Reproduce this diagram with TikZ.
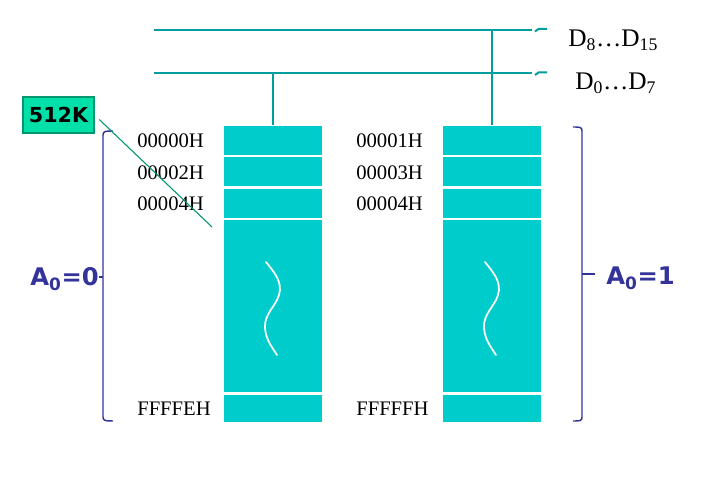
\documentclass[tikz,border=0pt]{standalone}
\usepackage{fontspec}
\setmainfont{Liberation Serif}
\newfontfamily\tagfont{DejaVu Sans}

\definecolor{cellcyan}{RGB}{0,204,204}
\definecolor{buscol}{RGB}{0,158,158}
\definecolor{tagfill}{RGB}{0,224,168}
\definecolor{tagline}{RGB}{0,150,110}
\definecolor{bracecol}{RGB}{51,51,153}

\tikzset{
  cell/.style={fill=cellcyan, inner sep=0pt, anchor=north west, minimum width=73.5pt},
  bus/.style={draw=buscol, line width=1.5pt},
  wave/.style={draw=white, line width=1.3pt, line cap=round},
  addr/.style={anchor=base west, inner sep=0pt, font=\fontsize{15.5}{18}\selectfont},
  dlabel/.style={anchor=base west, inner sep=0pt, font=\fontsize{19}{22}\selectfont},
  brace/.style={draw=bracecol, line width=1.1pt},
  sel/.style={anchor=base west, inner sep=0pt, text=bracecol, font=\tagfont\bfseries\fontsize{18.2}{22}\selectfont},
  tagbox/.style={draw=tagline, fill=tagfill, line width=0.8pt, minimum width=53.25pt, minimum height=27pt, inner sep=0pt, font=\tagfont\bfseries\fontsize{15.5}{18}\selectfont}
}

\begin{document}
\begin{tikzpicture}[x=0.75pt,y=0.75pt,yscale=-1,xscale=1]
\path[use as bounding box] (0,0) rectangle (722,484);

%Bus lines
\coordinate (hiL) at (154,30);
\coordinate (hiR) at (532,30);
\coordinate (loL) at (154,73.5);
\coordinate (loR) at (532,73.5);
\draw[bus] (hiL) -- (hiR);
\draw[bus] (loL) -- (loR);
%break marks
\draw[bus] (535,31.5) -- (538.5,29) -- (547,29);
\draw[bus] (535,75) -- (538.5,72.5) -- (547,72.5);

%Left bank (even bytes)
\node[cell, minimum height=21.75pt] (L1) at (224,125.5) {};
\node[cell, minimum height=22.1pt] (L2) at (224,156.5) {};
\node[cell, minimum height=21.75pt] (L3) at (224,188.5) {};
\node[cell, minimum height=129pt] (L4) at (224,219.5) {};
\node[cell, minimum height=20.25pt] (L5) at (224,394.5) {};

%Right bank (odd bytes)
\node[cell, minimum height=21.75pt] (R1) at (443,125.5) {};
\node[cell, minimum height=22.1pt] (R2) at (443,156.5) {};
\node[cell, minimum height=21.75pt] (R3) at (443,188.5) {};
\node[cell, minimum height=129pt] (R4) at (443,219.5) {};
\node[cell, minimum height=20.25pt] (R5) at (443,394.5) {};

%Bank to bus
\draw[bus] (L1.north) -- (L1.north |- loL);
\draw[bus] (R1.north) -- (R1.north |- hiL);

%Break waves
\draw[wave] (266,262) .. controls (274,272) and (283,282) .. (279,295) .. controls (276,306) and (264,314) .. (265,328) .. controls (266,340) and (272,347) .. (277,355);
\draw[wave] (485,262) .. controls (493,272) and (502,282) .. (498,295) .. controls (495,306) and (483,314) .. (484,328) .. controls (485,340) and (491,347) .. (496,355);

% Text Node
\node[addr] (adr0) at (137,147.7) {00000H};
\node[addr] (adr2) at (137,179.3) {00002H};
\node[addr] (adr4) at (137,210.5) {00004H};
\node[addr] (adrE) at (137,416) {FFFFEH};
\node[addr] (adr1) at (356,147.7) {00001H};
\node[addr] (adr3) at (356,179.3) {00003H};
\node[addr] (adr5) at (356,210.5) {00004H};
\node[addr] (adrF) at (356,416) {FFFFFH};

% Text Node
\node[dlabel] (dhi) at (568,46.7) {D\textsubscript{8}\dots D\textsubscript{15}};
\node[dlabel] (dlo) at (575,90) {D\textsubscript{0}\dots D\textsubscript{7}};

%Brackets
\node[sel] (selL) at (30,286) {A\textsubscript{0}=0};
\node[sel] (selR) at (606,285) {A\textsubscript{0}=1};
\coordinate (lmid) at (103,277);
\coordinate (rmid) at (582,274);
\draw[brace] (113,131) .. controls (106,131) and (103,131) .. (103,135) -- (103,417) .. controls (103,421) and (106,421) .. (113,421);
\draw[brace] (lmid) -- (lmid -| selL.east);
\draw[brace] (573,127) .. controls (580,127) and (582,127) .. (582,131) -- (582,417) .. controls (582,421) and (580,421) .. (573,421);
\draw[brace] (rmid) -- ([xshift=-8pt]rmid -| selR.west);

%Size tag
\node[tagbox] (tag) at (58.5,115) {512K};
\coordinate (tagend) at (212,227);
\draw[draw=tagline, line width=0.8pt, shorten <=5pt] (tag.east) -- (tagend);

\end{tikzpicture}
\end{document}
